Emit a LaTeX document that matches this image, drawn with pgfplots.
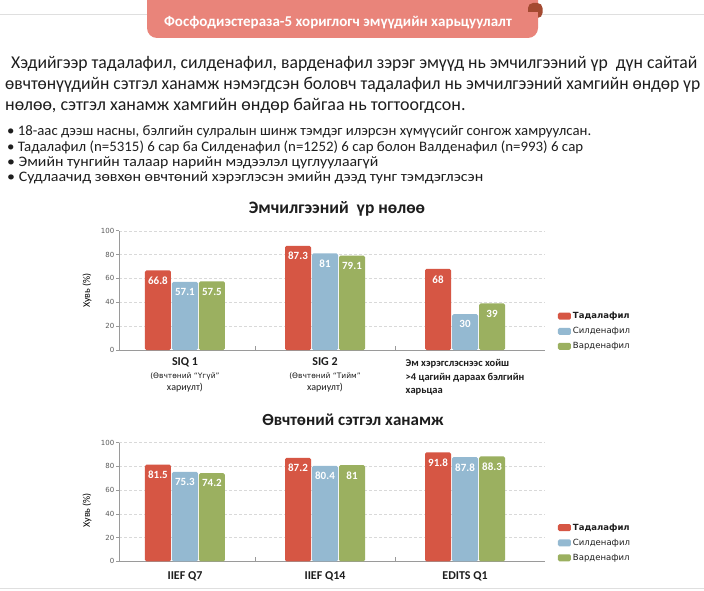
\documentclass[border=0pt]{standalone}
\usepackage{pgfplots}
\pgfplotsset{compat=1.18}
\usepackage{graphicx}
\usepackage{fontspec}
\setmainfont{Carlito}
\newfontfamily\dejavu{DejaVu Sans}

\definecolor{tada}{HTML}{D65644}
\definecolor{sild}{HTML}{94B9D1}
\definecolor{vard}{HTML}{9BB060}
\definecolor{banner}{HTML}{E9847A}
\definecolor{fold}{HTML}{A44A31}
\definecolor{axgray}{HTML}{9A9A9A}
\definecolor{lbl}{HTML}{5A5A5A}
\definecolor{txt}{HTML}{1E1E1E}

\pgfplotsset{
  slide/.style={
    ybar=1pt, bar width=26pt,
    scale only axis, width=426pt,
    xmin=-0.471, xmax=2.571, ymin=0, ymax=100,
    axis lines=left, axis line style={-, draw=axgray, line width=0.6pt},
    ytick={0,20,...,100},
    ymajorgrids, grid style={densely dashed, draw=gray!30, line width=0.4pt},
    tick align=outside, major tick length=3pt,
    ytick style={draw=axgray, line width=0.5pt},
    xtick={0,1,2}, xtick style={draw=none},
    /pgf/number format/assume math mode=true,
    yticklabel style={font=\dejavu\fontsize{7}{8}\selectfont, text=lbl, inner sep=1.5pt},
    ylabel={Хувь (\%)},
    ylabel style={font=\dejavu\fontsize{10}{11}\selectfont, text=lbl},
    every axis y label/.style={at={(rel axis cs:0,0.5)}, xshift=-32pt, rotate=90, anchor=center},
    xticklabel style={text=txt, align=center, anchor=north, inner sep=0pt},
    nodes near coords,
    every node near coord/.append style={font=\bfseries\fontsize{11}{12}\selectfont, text=white, anchor=north, yshift=-3pt},
    legend cell align=left,
    legend style={draw=none, fill=none, at={(rel axis cs:1.03,0.335)}, anchor=north west,
      font=\dejavu\fontsize{8.5}{10}\selectfont, text=txt, row sep=3.2pt, inner sep=0pt},
    legend image code/.code={\fill[##1, rounded corners=1.5pt] (0pt,-3.5pt) rectangle (13pt,3.5pt);},
    every axis plot/.append style={draw=none, rounded corners=1.5pt},
  }
}

\begin{document}
\begin{tikzpicture}
\fill[white] (0,0) rectangle (704pt,590pt);
\path[use as bounding box] (0,0) rectangle (704pt,590pt);

% --- top chart
\begin{axis}[slide, height=119.3pt, at={(119pt,240pt)}, anchor=south west,
  xticklabels={
    {\fontsize{12}{13}\selectfont\bfseries SIQ 1\\[1pt]\dejavu\fontsize{7.5}{13.5}\selectfont (Өвчтөний “Үгүй”\\хариулт)},
    {\fontsize{12}{13}\selectfont\bfseries SIG 2\\[1pt]\dejavu\fontsize{7.5}{13.5}\selectfont (Өвчтөний “Тийм”\\хариулт)},
    {\fontsize{10.5}{13.5}\selectfont\bfseries\begin{tabular}{@{}l@{}}Эм хэрэгслэснээс хойш\\ >4 цагийн дараах бэлгийн\\ харьцаа\end{tabular}}},
  xticklabel style={yshift=-4pt}]
\addplot[fill=tada] coordinates {(0,66.8) (1,87.3) (2,68)};
\addplot[fill=sild] coordinates {(0,57.1) (1,81) (2,30)};
\addplot[fill=vard] coordinates {(0,57.5) (1,79.1) (2,39)};
\legend{\bfseries Тадалафил, Силденафил, Варденафил}
\draw[axgray, line width=0.6pt] (axis cs:0.5,0) -- ++(0pt,4pt);
\draw[axgray, line width=0.6pt] (axis cs:1.5,0) -- ++(0pt,4pt);
\end{axis}

% --- bottom chart
\begin{axis}[slide, height=118.7pt, at={(119pt,28.7pt)}, anchor=south west,
  xticklabels={IIEF Q7, IIEF Q14, EDITS Q1},
  xticklabel style={font=\bfseries\fontsize{12}{13}\selectfont, yshift=-7pt},
  every axis y label/.append style={at={(rel axis cs:0,0.43)}}]
\addplot[fill=tada] coordinates {(0,81.5) (1,87.2) (2,91.8)};
\addplot[fill=sild] coordinates {(0,75.3) (1,80.4) (2,87.8)};
\addplot[fill=vard] coordinates {(0,74.2) (1,81) (2,88.3)};
\legend{\bfseries Тадалафил, Силденафил, Варденафил}
\draw[axgray, line width=0.6pt] (axis cs:0.5,0) -- ++(0pt,4pt);
\draw[axgray, line width=0.6pt] (axis cs:1.5,0) -- ++(0pt,4pt);
\end{axis}

% --- slide text, pixel coordinates measured from the top left
\begin{scope}[x=1pt, y=-1pt, shift={(0pt,590pt)}]
  \clip (0,0) rectangle (704,590);
  \draw[gray!25, line width=1pt] (0,15) -- (704,15);
  \draw[gray!25, line width=1pt] (0,588.5) -- (704,588.5);
  \fill[banner, rounded corners=10pt] (147,-15) rectangle (538,38);
  \fill[fold, rounded corners=5pt] (528,3) rectangle (542.5,18);
  \fill[banner] (528,12) rectangle (538,20);
  \node[text=white, font=\bfseries\fontsize{15}{18}\selectfont] at (338,22.5)
    {Фосфодиэстераза-5 хориглогч эмүүдийн харьцуулалт};

  \begin{scope}[every node/.style={anchor=base west, inner sep=0pt, text=txt, font=\fontsize{18}{20}\selectfont}]
    \node at (11,68.3) {\resizebox{686pt}{\height}{Хэдийгээр тадалафил, силденафил, варденафил зэрэг эмүүд нь эмчилгээний үр\ \ дүн сайтай}};
    \node at (5,90) {\resizebox{695pt}{\height}{өвчтөнүүдийн сэтгэл ханамж нэмэгдсэн боловч тадалафил нь эмчилгээний хамгийн өндөр үр}};
    \node at (5,111) {нөлөө, сэтгэл ханамж хамгийн өндөр байгаа нь тогтоогдсон.};
  \end{scope}
  \begin{scope}[every node/.style={anchor=base west, inner sep=0pt, text=txt, font=\fontsize{14.5}{16}\selectfont}]
    \node at (7,136) {\resizebox{584pt}{\height}{•\ 18-аас дээш насны, бэлгийн сулралын шинж тэмдэг илэрсэн хүмүүсийг сонгож хамруулсан.}};
    \node at (7,151.7) {\resizebox{576pt}{\height}{•\ Тадалафил (n=5315) 6 сар ба Силденафил (n=1252) 6 сар болон Валденафил (n=993) 6 сар}};
    \node at (7,166.5) {\resizebox{371pt}{\height}{•\ Эмийн тунгийн талаар нарийн мэдээлэл цуглуулаагүй}};
    \node at (7,182) {\resizebox{476pt}{\height}{•\ Судлаачид зөвхөн өвчтөний хэрэглэсэн эмийн дээд тунг тэмдэглэсэн}};
  \end{scope}

  \node[font=\bfseries\fontsize{17.5}{20}\selectfont, text=txt] at (337,209) {Эмчилгээний\ \ үр нөлөө};
  \node[font=\bfseries\fontsize{17}{20}\selectfont, text=txt] at (353,419.5) {Өвчтөний сэтгэл ханамж};
\end{scope}
\end{tikzpicture}
\end{document}
